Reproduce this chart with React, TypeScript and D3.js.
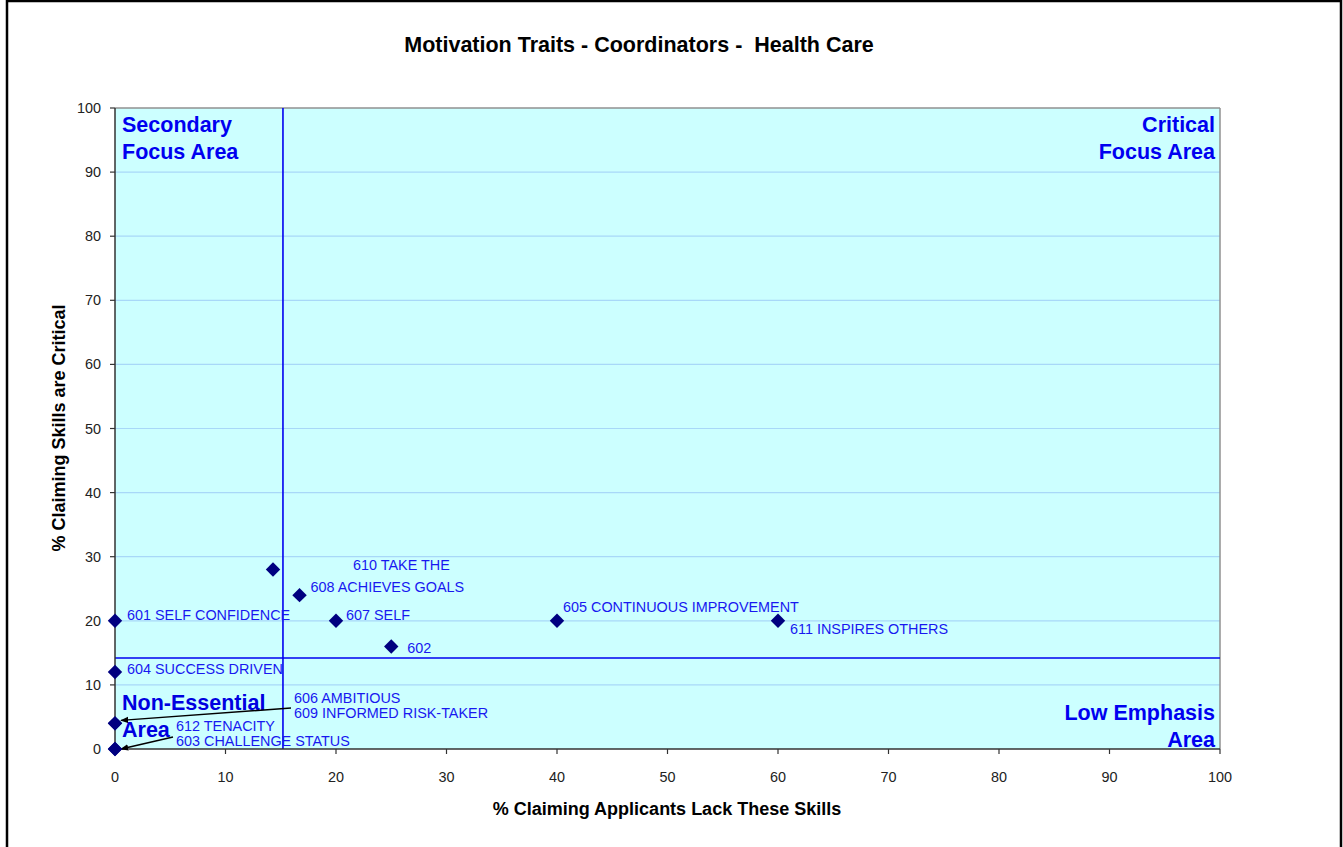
import React from "react";
import * as d3 from "d3";

const TITLE = "Motivation Traits - Coordinators -  Health Care";
const X_TITLE = "% Claiming Applicants Lack These Skills";
const Y_TITLE = "% Claiming Skills are Critical";
const X_TICKS = [0, 10, 20, 30, 40, 50, 60, 70, 80, 90, 100];
const Y_TICKS = [0, 10, 20, 30, 40, 50, 60, 70, 80, 90, 100];

const pointIds = ["601", "604", "606", "609", "612", "603", "610", "608", "607", "602", "605", "611"];
const lackValues = [0, 0, 0, 0, 0, 0, 14.3, 16.7, 20, 25, 40, 60];
const criticalValues = [20, 12, 4, 4, 0, 0, 28, 24, 20, 16, 20, 20];

const labelTexts = [
  "601 SELF CONFIDENCE",
  "604 SUCCESS DRIVEN",
  "610 TAKE THE",
  "608 ACHIEVES GOALS",
  "607 SELF",
  "602",
  "605 CONTINUOUS IMPROVEMENT",
  "611 INSPIRES OTHERS",
];
const labelFor = ["601", "604", "610", "608", "607", "602", "605", "611"];
const labelDx = [12, 12, 80, 11, 10, 16, 6, 12];
const labelDy = [-6, -3, -5, -8, -6, 2, -14, 8];

const stackedLabels = [
  ["606 AMBITIOUS", "609 INFORMED RISK-TAKER"],
  ["612 TENACITY", "603 CHALLENGE STATUS"],
];

const X_DIVIDER = 15.2;
const Y_DIVIDER = 14.2;

const FONT = "Arial, 'Liberation Sans', sans-serif";

export default function App() {
  const left = 115, right = 1220, top = 108, bottom = 749;
  const x = d3.scaleLinear().domain([0, 100]).range([left, right]);
  const y = d3.scaleLinear().domain([0, 100]).range([bottom, top]);
  const diamond = d3.symbol(d3.symbolSquare, 104)();
  const pts = pointIds.map((id, i) => ({ id, x: x(lackValues[i]), y: y(criticalValues[i]) }));
  const byId = (id: string) => pts.find((p) => p.id === id)!;
  const blue = "#1818F0";
  const qBlue = "#0000F0";

  const p606 = byId("606");
  const p612 = byId("612");

  return (
    <svg width={1343} height={847} style={{ position: "absolute", left: 0, top: 0 }}>
      <defs>
        <marker id="arr" viewBox="0 0 10 10" refX="9" refY="5" markerWidth="8" markerHeight="8" orient="auto-start-reverse" markerUnits="userSpaceOnUse">
          <path d="M0,1 L10,5 L0,9 z" fill="#000" />
        </marker>
      </defs>
      <rect x={0} y={0} width={1343} height={847} fill="#fff" />
      <rect x={7} y={1} width={1334} height={860} fill="none" stroke="#000" strokeWidth={2.5} />
      <text x={639} y={52} textAnchor="middle" fontFamily={FONT} fontWeight="bold" fontSize={21.5} fill="#000" style={{ whiteSpace: "pre" }}>{TITLE}</text>

      <rect x={left} y={top} width={right - left} height={bottom - top} fill="#CCFFFF" />
      {Y_TICKS.filter((t) => t > 0 && t < 100).map((t) => (
        <line key={t} x1={left} x2={right} y1={y(t)} y2={y(t)} stroke="#A8D8F8" strokeWidth={1.2} />
      ))}
      <line x1={left} x2={right} y1={top} y2={top} stroke="#909090" strokeWidth={1.5} />
      <line x1={right} x2={right} y1={top} y2={bottom} stroke="#909090" strokeWidth={1.5} />

      <line x1={x(X_DIVIDER)} x2={x(X_DIVIDER)} y1={top} y2={bottom} stroke="#0000F0" strokeWidth={1.6} />
      <line x1={left} x2={right} y1={y(Y_DIVIDER)} y2={y(Y_DIVIDER)} stroke="#0000F0" strokeWidth={1.6} />

      <line x1={left} x2={left} y1={top} y2={bottom} stroke="#333" strokeWidth={1.5} />
      <line x1={left} x2={right} y1={bottom} y2={bottom} stroke="#333" strokeWidth={1.5} />
      {Y_TICKS.map((t) => (
        <g key={"y" + t}>
          <line x1={left - 5} x2={left} y1={y(t)} y2={y(t)} stroke="#333" strokeWidth={1.2} />
          <text x={left - 14} y={y(t) + 5} textAnchor="end" fontFamily={FONT} fontSize={14.4} fill="#222">{t}</text>
        </g>
      ))}
      {X_TICKS.map((t) => (
        <g key={"x" + t}>
          <line x1={x(t)} x2={x(t)} y1={bottom} y2={bottom + 5} stroke="#333" strokeWidth={1.2} />
          <text x={x(t)} y={bottom + 33} textAnchor="middle" fontFamily={FONT} fontSize={14.4} fill="#222">{t}</text>
        </g>
      ))}
      <text x={667} y={815} textAnchor="middle" fontFamily={FONT} fontWeight="bold" fontSize={18} fill="#000">{X_TITLE}</text>
      <text transform={`translate(65,${428}) rotate(-90)`} textAnchor="middle" fontFamily={FONT} fontWeight="bold" fontSize={18} fill="#000">{Y_TITLE}</text>

      <g fontFamily={FONT} fontWeight="bold" fontSize={21.5} fill={qBlue}>
        <text x={122} y={132}>Secondary</text>
        <text x={122} y={159}>Focus Area</text>
        <text x={1215} y={132} textAnchor="end">Critical</text>
        <text x={1215} y={159} textAnchor="end">Focus Area</text>
        <text x={1215} y={720} textAnchor="end">Low Emphasis</text>
        <text x={1215} y={747} textAnchor="end">Area</text>
        <text x={122} y={710} fill="#0000E0">Non-Essential</text>
        <text x={122} y={737} fill="#0000E0">Area</text>
      </g>

      <g fontFamily={FONT} fontSize={14.4} fill={blue}>
        {labelTexts.map((t, i) => {
          const p = byId(labelFor[i]);
          return (
            <text key={t} x={p.x + labelDx[i]} y={p.y + labelDy[i] + 5}>{t}</text>
          );
        })}
        <text x={294} y={703}>{stackedLabels[0][0]}</text>
        <text x={294} y={718}>{stackedLabels[0][1]}</text>
        <text x={176} y={731}>{stackedLabels[1][0]}</text>
        <text x={176} y={746}>{stackedLabels[1][1]}</text>
      </g>

      <line x1={291} y1={708} x2={p606.x + 6} y2={p606.y - 3} stroke="#000" strokeWidth={1.4} markerEnd="url(#arr)" />
      <line x1={173} y1={737} x2={p612.x + 6} y2={p612.y} stroke="#000" strokeWidth={1.4} markerEnd="url(#arr)" />

      {pts.map((p) => (
        <path key={p.id} d={diamond} transform={`translate(${p.x},${p.y}) rotate(45)`} fill="#000080" />
      ))}
    </svg>
  );
}
